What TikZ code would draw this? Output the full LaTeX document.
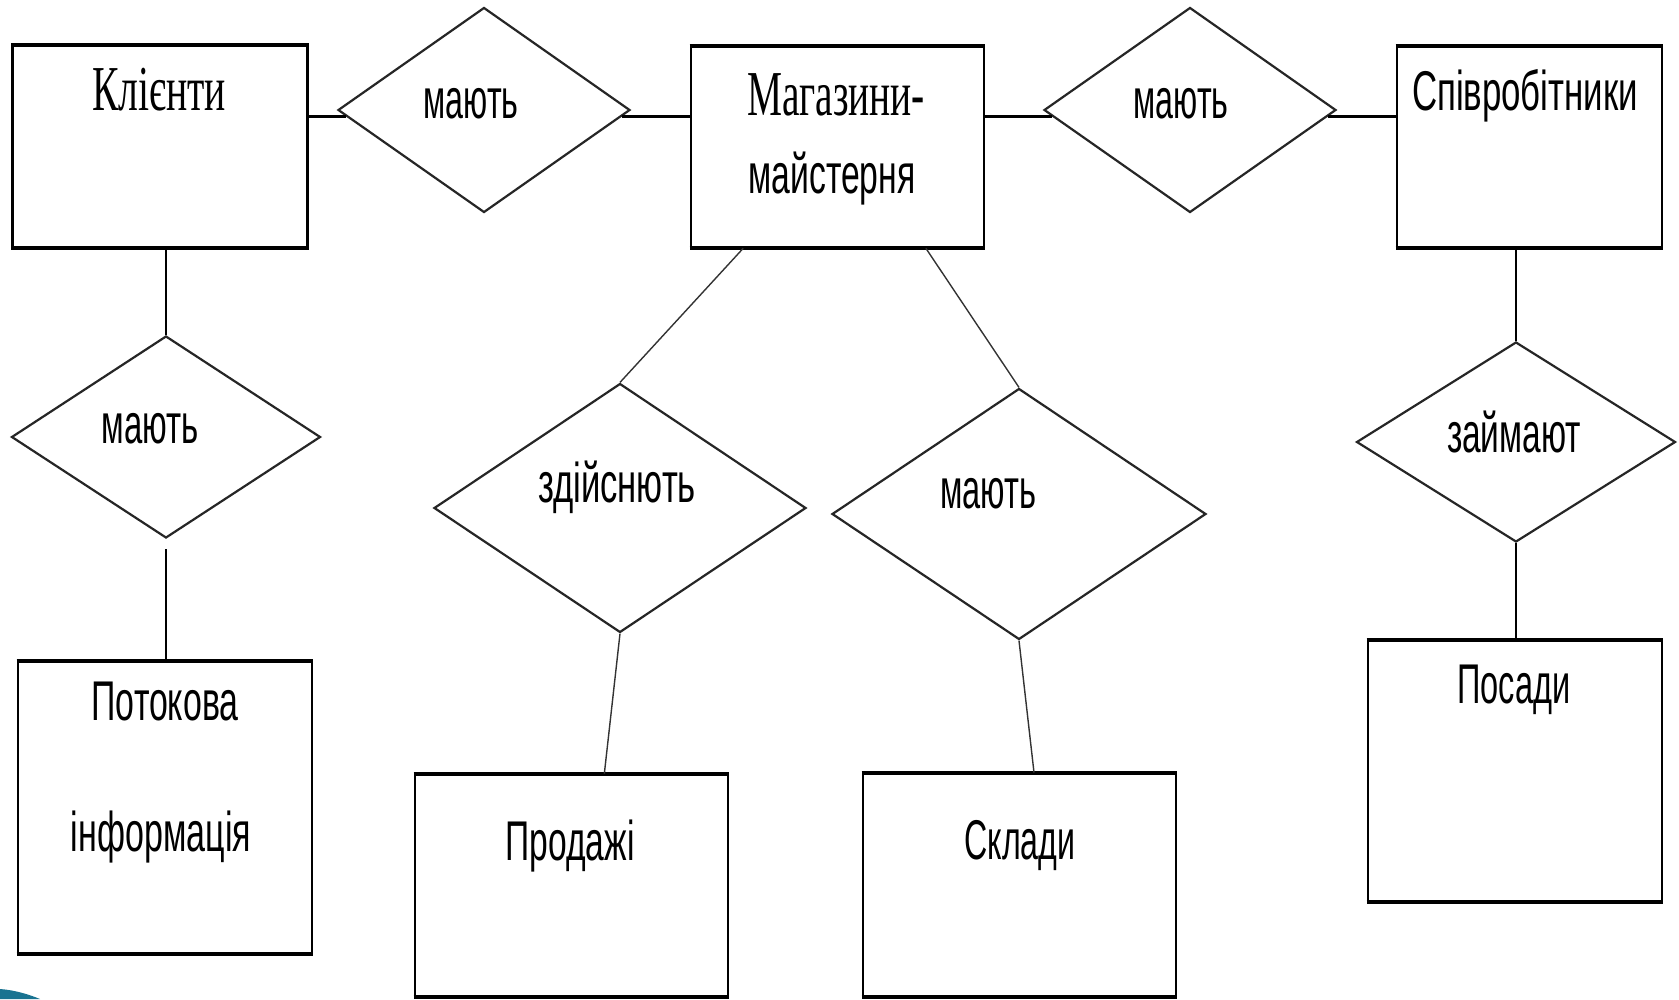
\documentclass[tikz,border=0pt]{standalone}
\usepackage{graphicx}
\usepackage{fontspec}
\setmainfont{Liberation Sans}
\newfontfamily\serifcyr{Liberation Serif}
\usetikzlibrary{shapes.geometric,calc}
\newcommand{\fitw}[2]{\resizebox{#1}{\height}{#2}}
\definecolor{swoosh}{RGB}{25,115,145}
\tikzset{
  ent/.style={draw=black, line width=2.6pt, rectangle, inner sep=0pt, fill=white},
  rel/.style={draw=black!85, line width=2.2pt, diamond, inner sep=0pt, fill=white},
  lbl/.style={inner sep=0pt, anchor=base, font=\fontsize{56}{60}\selectfont},
  slbl/.style={inner sep=0pt, anchor=base, font=\serifcyr\fontsize{64}{68}\selectfont},
  heavylink/.style={line width=3pt},
  thinlink/.style={line width=1.3pt},
  diaglink/.style={line width=1.4pt, draw=black!80},
  edgebar/.style={line width=4pt},
}
\begin{document}
\begin{tikzpicture}[x=1pt, y=-1pt]
\useasboundingbox (0,0) rectangle (1679,999);

% entity boxes
\node[ent, minimum width=294.5pt, minimum height=201pt] (k)  at (160,146.5) {};
\node[ent, minimum width=293pt,   minimum height=200pt] (m)  at (837.5,147) {};
\node[ent, minimum width=265pt,   minimum height=200pt] (s)  at (1529.5,147) {};
\node[ent, minimum width=294pt,   minimum height=291pt] (p)  at (165,807.5) {};
\node[ent, minimum width=313pt,   minimum height=221pt] (pr) at (571.5,885.5) {};
\node[ent, minimum width=313pt,   minimum height=222pt] (sk) at (1019.5,885) {};
\node[ent, minimum width=294pt,   minimum height=260pt] (po) at (1515,771) {};

% relationship diamonds
\node[rel, minimum width=292pt, minimum height=205pt] (d1) at (484,110) {};
\node[rel, minimum width=292pt, minimum height=205pt] (d2) at (1190,110) {};
\node[rel, minimum width=309pt, minimum height=202pt] (d3) at (166,437) {};
\node[rel, minimum width=372pt, minimum height=249pt] (d4) at (620,508) {};
\node[rel, minimum width=374pt, minimum height=251pt] (d5) at (1019,514) {};
\node[rel, minimum width=319pt, minimum height=200pt] (d6) at (1516,442) {};

% heavier top and bottom edges of the boxes
\foreach \b in {k,m,s,p,pr,sk,po}{
  \draw[edgebar] (\b.north west) -- (\b.north east);
  \draw[edgebar] (\b.south west) -- (\b.south east);
}

% attachment points just below the side corners of the top diamonds
\coordinate (d1L) at ($(d1.west)!0.06!(d1.south)$);
\coordinate (d1R) at ($(d1.east)!0.06!(d1.south)$);
\coordinate (d2L) at ($(d2.west)!0.06!(d2.south)$);
\coordinate (d2R) at ($(d2.east)!0.06!(d2.south)$);

% connectors
\draw[heavylink] (d1L -| k.east) -- (d1L);
\draw[heavylink] (d1R) -- (d1R -| m.west);
\draw[heavylink] (d2L -| m.east) -- (d2L);
\draw[heavylink] (d2R) -- (d2R -| s.west);

\draw[thinlink] (d3.north |- k.south) -- (d3.north);
\draw[thinlink, shorten <=10pt] (d3.south) -- (d3.south |- p.north);

\draw[thinlink] (d6.north |- s.south) -- (d6.north);
\draw[thinlink] (d6.south) -- (d6.south |- po.north);

\coordinate (mA) at ($(m.south west)!0.181!(m.south east)$);
\coordinate (mB) at ($(m.south west)!0.799!(m.south east)$);
\coordinate (prT) at ($(pr.north west)!0.604!(pr.north east)$);
\coordinate (skT) at ($(sk.north west)!0.546!(sk.north east)$);
\draw[diaglink] (mA) -- (d4.north);
\draw[diaglink] (mB) -- (d5.north);
\draw[diaglink] (d4.south) -- (prT);
\draw[diaglink] (d5.south) -- (skT);

% labels
\node[slbl] (tk)  at (159,110)  {\fitw{134pt}{Клієнти}};
\node[slbl] (tm1) at (836,115)  {\fitw{178pt}{Магазини-}};
\node[lbl]  (tm2) at (832,193)  {\fitw{167pt}{майстерня}};
\node[lbl]  (ts)  at (1525,110) {\fitw{226pt}{Співробітники}};
\node[lbl]  (t1)  at (471,118)  {\fitw{95pt}{мають}};
\node[lbl]  (t2)  at (1181,118) {\fitw{95pt}{мають}};
\node[lbl]  (t3)  at (150,443)  {\fitw{97pt}{мають}};
\node[lbl]  (t4)  at (617,502)  {\fitw{158pt}{здійснють}};
\node[lbl]  (t5)  at (988,508)  {\fitw{96pt}{мають}};
\node[lbl]  (t6)  at (1514,452) {\fitw{134pt}{займают}};
\node[lbl]  (tp1) at (165,720)  {\fitw{147pt}{Потокова}};
\node[lbl]  (tp2) at (161,851)  {\fitw{180pt}{інформація}};
\node[lbl]  (tpr) at (570,860)  {\fitw{129pt}{Продажі}};
\node[lbl]  (tsk) at (1020,859) {\fitw{111pt}{Склади}};
\node[lbl]  (tpo) at (1514,703) {\fitw{113pt}{Посади}};

% corner swoosh
\fill[swoosh] (0,989) .. controls (14,990) and (28,994) .. (40,999) -- (0,999) -- cycle;
\end{tikzpicture}
\end{document}
